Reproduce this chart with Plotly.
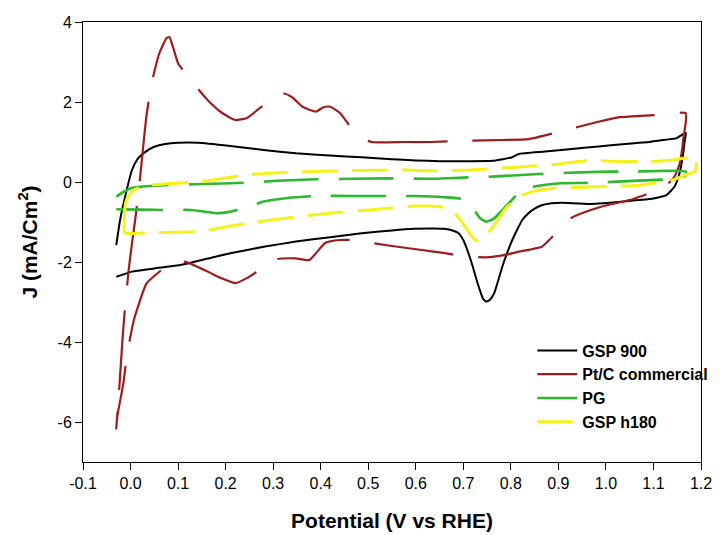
import plotly.graph_objects as go

# ---------------- data ----------------
gsp900_x = [-0.030, -0.022, -0.012, 0.003, 0.015, 0.032, 0.050, 0.073, 0.10, 0.142, 0.21, 0.28,
            0.348, 0.42, 0.486, 0.55, 0.60, 0.651, 0.70, 0.762, 0.803, 0.817, 0.872, 0.906, 0.96,
            1.01, 1.06, 1.092, 1.113, 1.147, 1.168, 1.166, 1.161, 1.154, 1.144, 1.127, 1.10,
            1.07, 1.038, 0.968, 0.906, 0.886, 0.865, 0.851, 0.837, 0.824, 0.813, 0.803, 0.792,
            0.782, 0.773, 0.765, 0.757, 0.749, 0.742, 0.737, 0.728, 0.72, 0.71, 0.70, 0.69,
            0.679, 0.66, 0.638, 0.596, 0.55, 0.486, 0.42, 0.348, 0.28, 0.21, 0.16, 0.107, 0.05,
            0.003, -0.030]
gsp900_y = [-1.58, -0.95, -0.40, 0.30, 0.58, 0.76, 0.88, 0.95, 0.98, 0.98, 0.90, 0.80,
            0.72, 0.66, 0.62, 0.57, 0.54, 0.52, 0.52, 0.53, 0.62, 0.70, 0.76, 0.80, 0.86,
            0.92, 0.97, 1.00, 1.04, 1.09, 1.23, 1.05, 0.59, 0.18, -0.12, -0.33, -0.41,
            -0.45, -0.49, -0.55, -0.52, -0.53, -0.58, -0.66, -0.78, -0.95, -1.20, -1.45, -1.78,
            -2.12, -2.48, -2.78, -2.93, -2.99, -2.93, -2.78, -2.45, -2.12, -1.75, -1.45, -1.28,
            -1.22, -1.17, -1.16, -1.17, -1.21, -1.28, -1.38, -1.49, -1.62, -1.78, -1.92, -2.07, -2.16,
            -2.24, -2.37]

ptc_x = [-0.030, -0.024, -0.017, -0.013, -0.004, 0.004, 0.011, 0.020, 0.028, 0.034, 0.045, 0.060,
         0.076, 0.082, 0.090, 0.100, 0.130, 0.162, 0.190, 0.220, 0.245, 0.269, 0.295, 0.320, 0.340,
         0.362, 0.390, 0.406, 0.420, 0.441, 0.458, 0.472, 0.490, 0.507, 0.576, 0.631, 0.700, 0.782,
         0.837, 0.900, 0.982, 1.030, 1.100, 1.168, 1.168, 1.163, 1.161, 1.155, 1.144, 1.127, 1.113,
         1.080, 1.050, 1.002, 0.968, 0.927, 0.906, 0.885, 0.865, 0.840, 0.817, 0.785, 0.755, 0.707,
         0.662, 0.613, 0.550, 0.465, 0.440, 0.410, 0.376, 0.348, 0.307, 0.269, 0.245, 0.221, 0.190,
         0.162, 0.114, 0.080, 0.060, 0.034, 0.007, -0.008, -0.015, -0.028, -0.030]
ptc_y = [-6.16, -5.20, -3.95, -3.33, -2.20, -1.45, -0.83, 0.10, 1.05, 1.70, 2.50, 3.20,
         3.60, 3.62, 3.35, 2.97, 2.50, 2.05, 1.75, 1.55, 1.60, 1.82, 2.05, 2.22, 2.12,
         1.88, 1.76, 1.87, 1.88, 1.72, 1.45, 1.22, 1.08, 1.00, 1.00, 1.00, 1.03, 1.05,
         1.07, 1.25, 1.50, 1.62, 1.67, 1.72, 1.50, 1.10, 0.88, 0.45, 0.13, -0.08, -0.20,
         -0.33, -0.45, -0.58, -0.70, -0.90, -1.16, -1.40, -1.62, -1.69, -1.74, -1.83, -1.88, -1.87,
         -1.78, -1.70, -1.60, -1.45, -1.45, -1.52, -1.95, -1.91, -1.93, -2.22, -2.40, -2.53, -2.40,
         -2.24, -1.99, -2.07, -2.25, -2.53, -3.45, -4.37, -5.03, -5.87, -6.16]

pg_x = [-0.030, -0.015, 0.003, 0.040, 0.073, 0.150, 0.238, 0.310, 0.390, 0.470, 0.548, 0.638,
        0.700, 0.770, 0.858, 0.920, 1.010, 1.050, 1.168, 1.168, 1.133, 1.080, 0.968, 0.906,
        0.865, 0.845, 0.827, 0.810, 0.796, 0.780, 0.765, 0.748, 0.735, 0.720, 0.700, 0.660,
        0.596, 0.548, 0.470, 0.390, 0.330, 0.280, 0.238, 0.210, 0.183, 0.155, 0.127, 0.080,
        0.020, -0.030]
pg_y = [-0.37, -0.25, -0.15, -0.10, -0.08, -0.05, -0.02, 0.03, 0.07, 0.08, 0.09, 0.08,
        0.11, 0.14, 0.20, 0.23, 0.26, 0.26, 0.26, 0.16, 0.07, 0.04, -0.02, -0.03,
        -0.08, -0.12, -0.18, -0.35, -0.53, -0.73, -0.91, -0.99, -0.90, -0.65, -0.43, -0.38,
        -0.35, -0.35, -0.35, -0.35, -0.40, -0.49, -0.66, -0.74, -0.78, -0.74, -0.70, -0.70,
        -0.69, -0.68]

h180_x = [-0.012, -0.013, -0.010, -0.003, 0.007, 0.030, 0.080, 0.142, 0.200, 0.245, 0.310,
          0.383, 0.480, 0.576, 0.638, 0.713, 0.810, 0.886, 0.940, 0.974, 1.010, 1.092, 1.140,
          1.189, 1.190, 1.189, 1.168, 1.140, 1.071, 0.982, 0.886, 0.844, 0.817, 0.789, 0.768,
          0.750, 0.734, 0.724, 0.713, 0.700, 0.679, 0.651, 0.596, 0.500, 0.417, 0.330, 0.245,
          0.142, 0.080, 0.038, -0.012]
h180_y = [-1.27, -0.90, -0.50, -0.33, -0.20, -0.10, -0.04, 0.00, 0.10, 0.18, 0.23,
          0.26, 0.29, 0.30, 0.28, 0.30, 0.37, 0.43, 0.51, 0.55, 0.52, 0.51, 0.55,
          0.62, 0.45, 0.28, 0.18, 0.05, -0.08, -0.12, -0.16, -0.24, -0.37, -0.66, -1.03,
          -1.30, -1.47, -1.45, -1.28, -1.05, -0.74, -0.62, -0.60, -0.70, -0.78, -0.90, -1.03,
          -1.24, -1.26, -1.27, -1.27]

x_ticks = [-0.1, 0.0, 0.1, 0.2, 0.3, 0.4, 0.5, 0.6, 0.7, 0.8, 0.9, 1.0, 1.1, 1.2]
y_ticks = [-6, -4, -2, 0, 2, 4]

series = [
    ("GSP 900", gsp900_x, gsp900_y, "#000000", 2.0, "solid"),
    ("Pt/C commercial", ptc_x, ptc_y, "#9e1c1c", 2.2, "80px,25px"),
    ("PG", pg_x, pg_y, "#2db82d", 2.6, "55px,20px"),
    ("GSP h180", h180_x, h180_y, "#f4f218", 3.0, "36px,14px"),
]

FONT = "Liberation Sans, Arial, sans-serif"

fig = go.Figure()
for name, xs, ys, color, width, dash in series:
    fig.add_trace(go.Scatter(
        x=xs, y=ys, mode="lines", name=name,
        line=dict(color=color, width=width, dash=dash, shape="spline", smoothing=0.5),
    ))

fig.update_layout(
    width=725, height=535,
    margin=dict(l=83, r=13, t=22, b=73),
    paper_bgcolor="white", plot_bgcolor="white",
    font=dict(family=FONT, size=16, color="black"),
    showlegend=True,
    legend=dict(
        x=0.727, y=0.292, xanchor="left", yanchor="top",
        bgcolor="rgba(0,0,0,0)", borderwidth=0,
        font=dict(family=FONT, size=16, color="black", weight="bold"),
        tracegroupgap=0, itemwidth=40,
    ),
)
fig.update_xaxes(
    range=[-0.1, 1.2], tickvals=x_ticks, ticktext=[f"{v:.1f}" for v in x_ticks],
    showgrid=False, zeroline=False, automargin=False,
    showline=True, linecolor="black", linewidth=1, mirror=True,
    ticks="outside", ticklen=7, tickcolor="black", tickwidth=1,
    tickfont=dict(family=FONT, size=16, color="black"),
    title=dict(text="Potential (V vs RHE)", standoff=22,
               font=dict(family=FONT, size=21, color="black", weight="bold")),
)
fig.update_yaxes(
    range=[-7, 4], tickvals=y_ticks, ticktext=[str(v) for v in y_ticks],
    showgrid=False, zeroline=False, automargin=False,
    showline=True, linecolor="black", linewidth=1, mirror=True,
    ticks="outside", ticklen=7, tickcolor="black", tickwidth=1,
    tickfont=dict(family=FONT, size=16, color="black"),
    title=dict(text="J (mA/Cm<sup>2</sup>)", standoff=14,
               font=dict(family=FONT, size=21, color="black", weight="bold")),
)

fig.write_html("out.html")
